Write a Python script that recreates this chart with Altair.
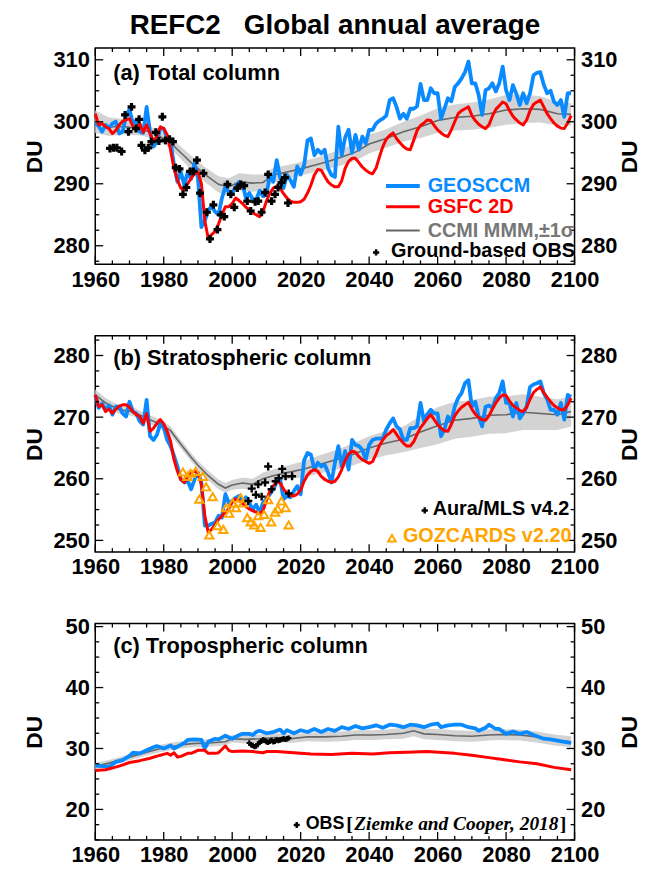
import altair as alt
import pandas as pd

# ---------------- data ----------------
YEARS = list(range(1960, 2100))

geos_total = [
    299.8, 299.3, 298.4, 299.5, 299.0, 299.7, 300.0, 298.1, 298.4, 301.0,
    302.0, 299.7, 300.3, 298.4, 298.2, 302.4, 298.4, 296.0, 296.8, 298.9,
    298.9, 297.3, 296.8, 293.0, 290.3, 291.9, 289.8, 291.9, 290.8, 293.3,
    290.9, 283.0, 284.0, 285.8, 286.3, 285.5, 285.0, 287.7, 289.5, 288.7,
    288.5, 289.5, 290.3, 290.0, 287.7, 288.5, 287.5, 287.4, 288.9, 288.0,
    288.2, 291.4, 290.3, 293.8, 291.0, 289.3, 291.4, 290.6, 289.5, 292.8,
    291.5, 293.0, 297.0, 297.3, 294.6, 295.5, 294.9, 295.5, 292.5, 291.4,
    291.1, 299.2, 294.6, 297.5, 298.7, 295.0, 297.9, 295.5, 297.6, 296.5,
    298.7, 298.7, 299.7, 300.2, 300.5, 301.0, 303.5, 303.8, 302.4, 300.5,
    301.3, 300.5, 302.1, 302.1, 302.5, 306.1, 303.5, 303.5, 305.4, 304.6,
    304.6, 300.5, 302.1, 303.8, 303.3, 305.6, 306.2, 307.0, 308.0, 309.7,
    306.2, 306.2, 304.3, 301.1, 305.1, 305.4, 306.2, 304.9, 306.2, 308.9,
    305.1, 303.5, 305.9, 304.5, 302.7, 304.6, 303.0, 304.6, 307.5, 307.9,
    308.0, 306.0, 304.6, 305.0, 303.2, 302.7, 303.5, 300.8, 304.6, 304.6,
]
gsfc_total = [
    301.3, 299.5, 299.7, 299.2, 298.9, 298.1, 298.6, 299.5, 300.1, 300.3,
    300.5, 299.2, 298.9, 299.7, 298.3, 299.5, 298.1, 296.8, 297.6, 299.2,
    298.9, 297.9, 295.4, 292.5, 290.6, 289.3, 289.0, 290.0, 290.9, 291.6,
    291.9, 290.0, 284.0, 281.2, 281.8, 282.3, 283.5, 285.0, 286.3, 286.3,
    286.8, 287.7, 287.3, 286.8, 286.2, 285.8, 285.3, 285.0, 284.7, 285.5,
    287.2, 288.5, 289.3, 289.6, 289.3, 288.4, 287.7, 287.2, 287.0, 287.0,
    287.1, 287.5, 288.5, 289.8, 291.4, 292.3, 292.2, 291.2, 290.3, 289.8,
    289.5, 289.5, 290.5, 292.5, 293.6, 294.1, 294.1, 293.4, 292.7, 292.2,
    291.8, 291.6, 292.5, 294.3, 296.0, 297.2, 297.8, 298.2, 297.3, 296.6,
    296.0, 295.6, 295.5, 297.0, 298.6, 299.4, 299.8, 300.3, 300.2, 299.4,
    298.7, 298.2, 297.8, 297.6, 298.7, 300.0, 301.3, 301.8, 302.1, 302.4,
    301.0, 300.2, 299.6, 299.2, 298.9, 299.5, 300.9, 302.0, 302.6, 303.2,
    302.9, 301.8, 300.9, 300.3, 299.8, 299.5, 300.3, 301.8, 302.8, 303.2,
    303.5, 302.4, 301.3, 300.5, 299.8, 299.3, 299.0, 298.9, 299.8, 301.0,
]
mmm_total_years = [1960, 1964, 1969, 1974, 1978, 1982, 1985, 1988, 1992, 1996, 1999, 2002,
                   2006, 2009, 2012, 2016, 2020, 2024, 2028, 2032, 2036, 2040, 2045, 2050,
                   2055, 2060, 2065, 2070, 2075, 2080, 2085, 2090, 2095, 2099]
mmm_total = [300.0, 299.2, 299.2, 298.7, 297.9, 296.6, 295.0, 293.4, 291.5, 289.9, 289.5, 290.3,
             290.1, 290.2, 291.4, 291.9, 292.4, 293.0, 293.6, 294.3, 295.1, 296.4, 297.3, 298.4,
             299.2, 300.2, 300.7, 300.9, 301.3, 301.9, 302.1, 302.0, 301.3, 301.2]
sd_total = [1.8, 1.5, 1.2, 1.0, 0.9, 0.9, 1.0, 1.1, 1.2, 1.3, 1.4, 1.4,
            1.4, 1.3, 1.2, 1.1, 1.1, 1.1, 1.2, 1.3, 1.4, 1.5, 1.5, 1.6,
            1.8, 2.0, 2.1, 2.2, 2.3, 2.4, 2.3, 2.1, 1.9, 1.8]
obs_total_years = [1964.3, 1965.3, 1966.3, 1967.7, 1968.7, 1969.7, 1970.6, 1971.9, 1972.8, 1973.5,
                   1974.5, 1975.5, 1976.4, 1977.7, 1978.6, 1979.6, 1980.5, 1981.7, 1982.7, 1983.5,
                   1984.6, 1985.6, 1986.6, 1987.7, 1988.7, 1989.7, 1990.6, 1991.6, 1992.6, 1993.5,
                   1994.5, 1995.7, 1996.7, 1997.7, 1998.6, 1999.6, 2000.6, 2001.5, 2002.5, 2003.5,
                   2004.4, 2005.4, 2006.7, 2007.6, 2008.6, 2009.6, 2010.5, 2011.5, 2012.5, 2013.4,
                   2014.4, 2015.4, 2016.3]
obs_total = [295.7, 295.8, 295.8, 295.2, 301.1, 298.4, 302.4, 298.9, 300.4, 296.2,
             295.4, 295.8, 296.8, 298.3, 296.9, 300.8, 297.0, 297.2, 296.8, 292.6,
             292.4, 288.3, 289.4, 292.0, 292.0, 293.8, 288.5, 291.7, 285.4, 281.1,
             286.6, 282.6, 285.0, 284.7, 289.9, 288.3, 286.2, 289.3, 289.9, 289.7,
             287.2, 285.6, 287.1, 287.2, 285.4, 288.6, 291.5, 287.2, 288.3, 289.4,
             290.2, 291.0, 286.9]

geos_strat = [
    273.6, 271.5, 272.2, 271.2, 271.9, 270.4, 271.7, 271.7, 270.6, 270.1,
    272.5, 270.9, 270.6, 269.3, 268.8, 272.8, 266.9, 266.3, 267.1, 269.0,
    268.3, 266.3, 265.3, 263.7, 262.0, 259.9, 259.4, 259.7, 258.3, 259.9,
    261.0, 259.4, 252.4, 252.4, 252.7, 252.9, 254.0, 253.7, 257.5, 256.1,
    256.4, 256.9, 257.2, 256.1, 257.0, 256.1, 255.0, 255.8, 254.5, 256.1,
    256.7, 257.5, 258.3, 259.4, 259.9, 256.7, 257.2, 257.0, 258.0, 258.8,
    257.5, 263.0, 264.2, 263.9, 261.5, 262.6, 262.0, 262.3, 261.0, 259.4,
    262.6, 265.3, 262.0, 264.5, 261.5, 266.3, 265.5, 265.3, 264.7, 263.1,
    265.5, 266.3, 266.5, 266.5, 266.6, 268.0, 269.0, 269.8, 268.5, 268.0,
    266.3, 266.3, 268.2, 268.2, 268.5, 272.3, 269.3, 270.5, 271.2, 270.6,
    270.6, 266.9, 268.0, 270.1, 269.3, 271.7, 273.1, 273.9, 275.5, 276.0,
    271.7, 272.5, 270.1, 268.5, 271.7, 271.9, 271.5, 273.1, 273.9, 275.8,
    272.3, 272.3, 270.1, 272.3, 269.8, 270.6, 271.7, 274.9, 275.3, 275.5,
    275.8, 273.9, 272.9, 271.2, 271.2, 270.4, 272.3, 269.6, 273.6, 273.3,
]
gsfc_strat = [
    273.6, 271.7, 272.0, 270.9, 271.3, 270.6, 271.3, 271.8, 272.0, 272.0,
    271.6, 270.9, 270.4, 270.1, 269.0, 270.6, 267.7, 268.2, 269.0, 269.6,
    268.9, 267.7, 266.1, 263.1, 261.2, 259.9, 259.4, 260.3, 261.0, 261.2,
    261.0, 259.1, 254.0, 251.3, 251.8, 252.6, 253.4, 254.0, 254.6, 255.1,
    256.2, 256.7, 256.5, 256.0, 255.5, 255.1, 254.8, 254.6, 254.3, 254.8,
    256.5, 258.0, 258.8, 259.6, 259.3, 258.3, 257.7, 257.3, 257.2, 257.5,
    258.2, 259.6, 260.6, 261.2, 261.5, 261.2, 260.4, 259.9, 259.6, 259.4,
    259.6, 260.3, 261.5, 263.0, 264.0, 264.5, 264.3, 263.6, 263.1, 262.8,
    262.5, 262.8, 264.0, 265.4, 266.3, 267.0, 267.4, 268.0, 267.2, 266.4,
    265.8, 265.3, 265.3, 266.0, 267.2, 268.3, 269.0, 269.8, 270.4, 269.6,
    268.8, 268.2, 267.8, 267.7, 268.8, 270.2, 271.0, 271.6, 272.0, 272.4,
    271.3, 270.5, 269.9, 269.6, 269.5, 270.2, 271.3, 272.3, 273.1, 273.6,
    273.5, 272.6, 271.9, 271.5, 271.1, 270.9, 271.6, 272.9, 274.0, 274.5,
    274.9, 274.0, 273.2, 272.5, 271.9, 271.5, 271.2, 271.2, 272.0, 273.1,
]
mmm_strat_years = [1960, 1963, 1967, 1971, 1975, 1979, 1982, 1985, 1988, 1990, 1993, 1996,
                   1998, 2000, 2003, 2006, 2009, 2012, 2016, 2021, 2026, 2031, 2035, 2040,
                   2045, 2050, 2055, 2060, 2065, 2070, 2075, 2080, 2085, 2090, 2095, 2099]
mmm_strat = [273.6, 272.3, 271.2, 270.9, 269.8, 268.9, 267.8, 265.6, 263.5, 262.2, 260.5, 259.1,
             258.5, 259.0, 259.3, 259.1, 260.0, 260.5, 261.0, 261.6, 262.4, 263.2, 263.9, 265.0,
             265.8, 266.4, 267.6, 268.6, 269.5, 269.8, 270.3, 270.4, 270.8, 270.6, 270.4, 270.9]
sd_strat = [0.9, 0.8, 0.7, 0.7, 0.7, 0.7, 0.7, 0.7, 0.7, 0.7, 0.8, 0.8,
            0.8, 0.8, 0.9, 0.9, 1.0, 1.0, 1.1, 1.3, 1.5, 1.6, 1.8, 1.9,
            2.0, 2.1, 2.6, 3.0, 3.0, 3.0, 3.0, 3.0, 2.9, 2.7, 2.5, 2.4]
mls_years = [2004.7, 2005.7, 2006.9, 2007.6, 2008.6, 2009.6, 2010.5, 2011.5, 2012.7, 2013.6,
             2014.6, 2015.6, 2016.5, 2017.5]
mls_strat = [256.4, 258.4, 257.4, 259.1, 257.1, 259.4, 262.0, 258.3, 259.6, 260.1,
             261.6, 260.4, 257.6, 260.4]
goz_years = [1985.6, 1986.9, 1987.8, 1989.3, 1990.4, 1991.4, 1992.4, 1993.3, 1994.3, 1995.7,
             1997.4, 1998.2, 1999.1, 2000.1, 2001.1, 2002.5, 2003.2, 2004.4, 2005.4, 2006.4,
             2007.6, 2008.3, 2009.3, 2010.5, 2011.4, 2012.5, 2013.3, 2014.4, 2015.6, 2016.5]
goz_strat = [261.1, 260.4, 260.9, 261.2, 256.7, 260.4, 258.7, 250.9, 257.1, 252.4,
             251.8, 255.3, 254.4, 256.1, 255.3, 256.9, 256.1, 253.7, 253.0, 252.5,
             254.0, 252.1, 254.2, 256.6, 253.0, 254.6, 255.1, 256.4, 255.3, 252.5]

geos_trop_years = [1960, 1962, 1964, 1966, 1968, 1970, 1971, 1973, 1975, 1977, 1978, 1980,
                   1982, 1983, 1985, 1986, 1987, 1989, 1991, 1992, 1993, 1995, 1996, 1998,
                   2000, 2002, 2003, 2005, 2006, 2007, 2008, 2010, 2012, 2014, 2015, 2016,
                   2018, 2020, 2022, 2024, 2026, 2028, 2030, 2032, 2034, 2036, 2038, 2040,
                   2042, 2044, 2046, 2048, 2050, 2052, 2054, 2056, 2058, 2060, 2061, 2063,
                   2065, 2067, 2069, 2071, 2072, 2074, 2075, 2077, 2078, 2080, 2082, 2084,
                   2086, 2088, 2090, 2091, 2093, 2095, 2097, 2099]
geos_trop = [27.2, 27.1, 27.0, 27.8, 28.1, 28.8, 29.3, 29.2, 29.7, 30.2, 30.4, 30.0,
             30.5, 30.0, 30.6, 30.9, 31.4, 31.5, 31.4, 30.0, 31.1, 31.6, 31.5, 32.1,
             31.6, 32.2, 32.4, 32.4, 32.2, 32.7, 32.9, 32.5, 32.7, 33.1, 32.5, 33.0,
             32.5, 33.0, 32.7, 33.2, 32.7, 33.2, 32.9, 33.5, 33.2, 33.7, 33.3, 33.5,
             33.8, 33.4, 33.9, 33.8, 33.5, 33.9, 33.8, 33.5, 33.9, 34.1, 33.5, 33.8,
             33.9, 33.9, 33.5, 33.3, 32.9, 33.4, 33.9, 33.2, 33.2, 32.4, 32.8, 32.4,
             32.7, 32.2, 31.8, 31.6, 31.5, 31.3, 31.1, 30.9]
gsfc_trop_years = [1960, 1963, 1967, 1970, 1973, 1976, 1979, 1981, 1982, 1983, 1984, 1985,
                   1987, 1988, 1990, 1992, 1993, 1995, 1996, 1998, 1999, 2000, 2003, 2006,
                   2009, 2010, 2013, 2018, 2023, 2029, 2035, 2041, 2046, 2051, 2057, 2065,
                   2070, 2075, 2079, 2084, 2089, 2094, 2099]
gsfc_trop = [26.4, 26.5, 27.1, 27.7, 28.0, 28.4, 28.9, 29.2, 28.9, 29.3, 28.6, 28.7,
             29.2, 29.2, 29.7, 29.7, 29.2, 29.2, 29.3, 30.4, 29.7, 29.5, 29.6, 29.5,
             29.3, 29.5, 29.5, 29.3, 29.1, 29.0, 29.2, 29.1, 29.3, 29.4, 29.5, 29.2,
             28.9, 28.5, 28.2, 27.8, 27.5, 26.9, 26.5]
mmm_trop_years = [1960, 1964, 1969, 1974, 1979, 1984, 1988, 1993, 1998, 2000, 2004, 2008,
                  2013, 2017, 2022, 2027, 2032, 2036, 2041, 2045, 2050, 2053, 2056, 2060,
                  2065, 2070, 2075, 2079, 2084, 2089, 2094, 2099]
mmm_trop = [27.1, 27.6, 28.4, 29.2, 30.0, 30.5, 30.8, 30.9, 31.1, 31.6, 31.5, 31.6,
            31.8, 31.6, 31.9, 31.9, 32.0, 32.2, 32.2, 32.3, 32.5, 32.9, 32.4, 32.3,
            32.1, 32.0, 32.2, 32.3, 32.2, 31.9, 31.4, 31.1]
sd_trop = [0.5, 0.5, 0.5, 0.5, 0.6, 0.6, 0.6, 0.6, 0.6, 0.6, 0.7, 0.7,
           0.7, 0.7, 0.7, 0.8, 0.8, 0.8, 0.8, 0.8, 0.9, 0.9, 0.9, 0.9,
           0.9, 0.9, 0.9, 0.9, 0.9, 0.9, 0.9, 0.9]
obs_trop_years = [2005.0, 2005.5, 2006.0, 2006.5, 2007.0, 2007.5, 2008.0, 2008.5, 2009.0, 2009.5,
                  2010.0, 2010.5, 2011.0, 2011.5, 2012.0, 2012.5, 2013.0, 2013.5, 2014.0, 2014.5,
                  2015.0, 2015.5, 2016.0, 2016.5]
obs_trop = [30.9, 30.6, 30.5, 30.3, 30.4, 30.7, 31.0, 31.2, 31.4, 31.3,
            31.1, 31.0, 31.2, 31.3, 31.1, 31.2, 31.4, 31.3, 31.4, 31.5,
            31.6, 31.5, 31.6, 31.7]

# ---------------- styling ----------------
FONT = "Liberation Sans"
W, H = 483, 218
BLUE = "#0a8aff"
RED = "#ff0000"
GREY = "#666666"
BAND = "#d3d3d3"
ORANGE = "#ffa500"
LBL = 22      # tick label size
LEG = 20      # legend text size
PAN = 22      # panel label size

X_MAJOR = list(range(1960, 2101, 20))
X_MINOR = [v for v in range(1960, 2101, 5) if v % 20]

X_AXIS = alt.Axis(values=X_MAJOR, format="d", labelFont=FONT, labelFontSize=LBL,
                  labelFontWeight="bold", labelColor="black", ticks=False, domain=False,
                  grid=False, title=None, labelPadding=5, labelFlush=False, labelOverlap=False)
X_SCALE = alt.Scale(domain=[1960, 2100], nice=False, zero=False)
DUMMY = pd.DataFrame({"d": [0]})


def xe(field="year"):
    return alt.X(f"{field}:Q", scale=X_SCALE, axis=X_AXIS)


def ye(field, dom, axis=None):
    return alt.Y(f"{field}:Q", scale=alt.Scale(domain=dom, nice=False, zero=False), axis=axis)


def y_axis(orient, values):
    return alt.Axis(orient=orient, values=values, format="d", title="DU", titleFont=FONT,
                    titleFontSize=23, titleFontWeight="bold", titleColor="black",
                    titleAngle=270, titleAlign="center", titleBaseline="middle",
                    titleX=(-61 if orient == "left" else 55), titleY=H / 2,
                    labelFont=FONT, labelFontSize=LBL, labelFontWeight="bold",
                    labelColor="black", ticks=False, domain=False, grid=False,
                    labelPadding=6, labelFlush=False, labelOverlap=False)


def frame_layers(dom, y_major):
    y_minor = []
    v = round(dom[0] / 2.5 + 0.4999) * 2.5
    while v < dom[1]:
        if v % 10:
            y_minor.append(v)
        v += 2.5
    layers = []
    for vals, L in ((X_MAJOR, 8), (X_MINOR, 4)):
        df = pd.DataFrame({"year": vals})
        layers.append(alt.Chart(df).mark_rule(color="black", strokeWidth=1.3).encode(
            x=xe(), y=alt.value(H), y2=alt.value(H - L)))
        layers.append(alt.Chart(df).mark_rule(color="black", strokeWidth=1.3).encode(
            x=xe(), y=alt.value(0), y2=alt.value(L)))
    dmaj = pd.DataFrame({"v": y_major})
    dmin = pd.DataFrame({"v": y_minor})
    layers.append(alt.Chart(dmaj).mark_rule(color="black", strokeWidth=1.3).encode(
        y=ye("v", dom, y_axis("left", y_major)), x=alt.value(0), x2=alt.value(8)))
    layers.append(alt.Chart(dmaj).mark_rule(color="black", strokeWidth=1.3).encode(
        y=ye("v", dom, y_axis("right", y_major)), x=alt.value(W - 8), x2=alt.value(W)))
    layers.append(alt.Chart(dmin).mark_rule(color="black", strokeWidth=1.3).encode(
        y=ye("v", dom), x=alt.value(0), x2=alt.value(4)))
    layers.append(alt.Chart(dmin).mark_rule(color="black", strokeWidth=1.3).encode(
        y=ye("v", dom), x=alt.value(W - 4), x2=alt.value(W)))
    return layers


def model_layers(dom, myears, mmm, sd, geos_x, geos_y, gsfc_x, gsfc_y):
    band = pd.DataFrame({"year": myears, "m": mmm, "sd": sd})
    band["lo"] = band["m"] - band["sd"]
    band["hi"] = band["m"] + band["sd"]
    geos = pd.DataFrame({"year": geos_x, "v": geos_y})
    gsfc = pd.DataFrame({"year": gsfc_x, "v": gsfc_y})
    return [
        alt.Chart(band).mark_area(color=BAND, opacity=1).encode(
            x=xe(), y=ye("lo", dom), y2=alt.Y2("hi:Q")),
        alt.Chart(band).mark_line(color=GREY, strokeWidth=1.6).encode(x=xe(), y=ye("m", dom)),
        alt.Chart(geos).mark_line(color=BLUE, strokeWidth=3.8, strokeJoin="round").encode(
            x=xe(), y=ye("v", dom)),
        alt.Chart(gsfc).mark_line(color=RED, strokeWidth=3, strokeJoin="round").encode(
            x=xe(), y=ye("v", dom)),
    ]


def text(t, x, y, size=LEG, color="black", align="left", font=FONT, style="normal",
         weight="bold"):
    return alt.Chart(DUMMY).mark_text(text=t, align=align, baseline="middle", font=font,
                                      fontSize=size, fontWeight=weight, fontStyle=style,
                                      color=color).encode(x=alt.value(x), y=alt.value(y))


def legend_line(x1, x2, y, color, width):
    return alt.Chart(DUMMY).mark_rule(color=color, strokeWidth=width).encode(
        x=alt.value(x1), x2=alt.value(x2), y=alt.value(y))


def marker(x, y, shape, size, color="black", filled=True, sw=0):
    return alt.Chart(DUMMY).mark_point(shape=shape, size=size, filled=filled, color=color,
                                       opacity=1, strokeWidth=sw).encode(
        x=alt.value(x), y=alt.value(y))


# ---------------- panel (a) ----------------
dom_a = [277.0, 311.9]
obs_a = pd.DataFrame({"year": obs_total_years, "v": obs_total})
panel_a = alt.layer(
    *model_layers(dom_a, mmm_total_years, mmm_total, sd_total, YEARS, geos_total, YEARS, gsfc_total),
    alt.Chart(obs_a).mark_point(shape="cross", size=64, filled=True, color="black", opacity=1).encode(
        x=xe(), y=ye("v", dom_a)),
    *frame_layers(dom_a, [280, 290, 300, 310]),
    text("(a) Total column", 18, 25, size=PAN),
    legend_line(293, 327, 139, BLUE, 4), text("GEOSCCM", 335, 139, color=BLUE),
    legend_line(293, 327, 160, RED, 3), text("GSFC 2D", 335, 160, color=RED),
    legend_line(293, 327, 184, GREY, 2), text("CCMI MMM,\u00b11\u03c3", 335, 184, color="#777777"),
    marker(283, 206, "cross", 40), text("Ground-based OBS", 298, 205),
).resolve_scale(y="independent").properties(width=W, height=H)

# ---------------- panel (b) ----------------
dom_b = [248.1, 283.2]
mls = pd.DataFrame({"year": mls_years, "v": mls_strat})
goz = pd.DataFrame({"year": goz_years, "v": goz_strat})
PLUS = "M-1,0H1M0,-1V1"
panel_b = alt.layer(
    *model_layers(dom_b, mmm_strat_years, mmm_strat, sd_strat, YEARS, geos_strat, YEARS, gsfc_strat),
    alt.Chart(goz).mark_point(shape="triangle-up", size=70, filled=False, color=ORANGE,
                              strokeWidth=2, opacity=1).encode(x=xe(), y=ye("v", dom_b)),
    alt.Chart(mls).mark_point(shape=PLUS, size=64, filled=False, color="black",
                              strokeWidth=2.4, opacity=1).encode(x=xe(), y=ye("v", dom_b)),
    *frame_layers(dom_b, [250, 260, 270, 280]),
    text("(b) Stratospheric column", 18, 22, size=PAN),
    marker(332, 176, PLUS, 40, filled=False, sw=2.4), text("Aura/MLS v4.2", 340, 175),
    marker(299, 204, "triangle-up", 60, color=ORANGE, filled=False, sw=2),
    text("GOZCARDS v2.20", 310, 202, color=ORANGE),
).resolve_scale(y="independent").properties(width=W, height=H)

# ---------------- panel (c) ----------------
dom_c = [15.0, 50.5]
obs_c = pd.DataFrame({"year": obs_trop_years, "v": obs_trop})
panel_c = alt.layer(
    *model_layers(dom_c, mmm_trop_years, mmm_trop, sd_trop, geos_trop_years, geos_trop,
                  gsfc_trop_years, gsfc_trop),
    alt.Chart(obs_c).mark_point(shape="cross", size=30, filled=True, color="black", opacity=1).encode(
        x=xe(), y=ye("v", dom_c)),
    *frame_layers(dom_c, [20, 30, 40, 50]),
    text("(c) Tropospheric column", 18, 23, size=PAN),
    marker(203, 203, "cross", 36), text("OBS", 212, 202, size=18),
    text("[", 253, 202, size=20, font="Liberation Serif"),
    text("Ziemke and Cooper, 2018", 261, 202, size=19.5, font="Liberation Serif",
         style="italic"),
    text("]", 468, 202, size=20, font="Liberation Serif"),
).resolve_scale(y="independent").properties(width=W, height=H)

chart = alt.vconcat(panel_a, panel_b, panel_c, spacing=72, bounds="flush").properties(
    title=alt.TitleParams(text="REFC2\u00a0\u00a0\u00a0Global annual average", font=FONT,
                          fontSize=28, fontWeight="bold", color="black", anchor="middle",
                          frame="group", offset=7),
    padding={"left": 23, "top": 8, "right": 5, "bottom": 5},
    background="white",
).configure_view(stroke="black", strokeWidth=1.5)

chart.save("out.html", embed_options={"renderer": "svg", "actions": False})
